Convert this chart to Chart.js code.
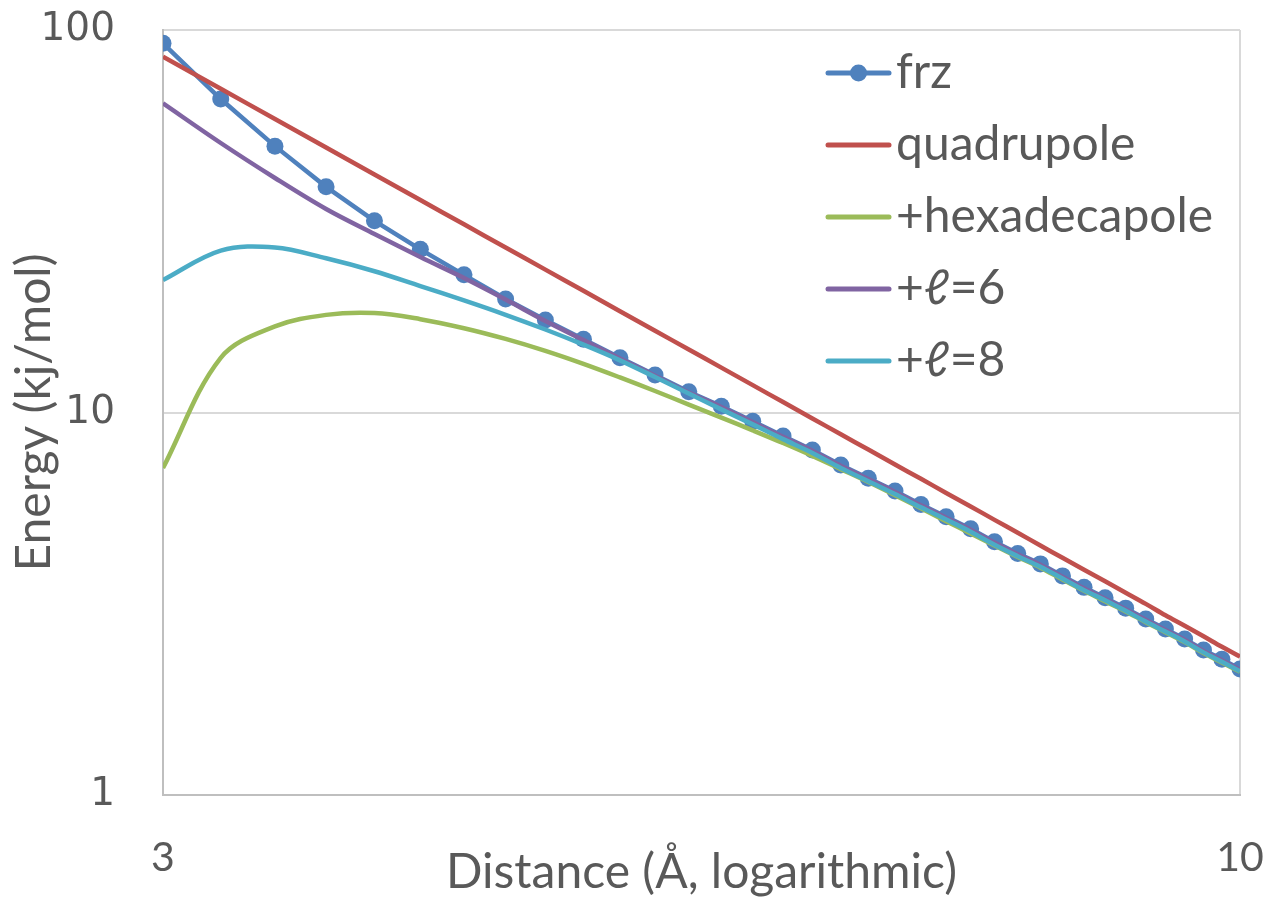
<!DOCTYPE html>
<html>
<head>
<meta charset="utf-8">
<title>Energy vs distance</title>
<script src="https://cdn.jsdelivr.net/npm/chart.js@4.4.1/dist/chart.umd.min.js"></script>
<style>
  html, body { margin: 0; padding: 0; background: #fff; }
  #wrap { width: 1263px; height: 901px; position: relative; }
</style>
</head>
<body>
<div id="wrap"><canvas id="chart"></canvas></div>
<script>
// distance in Å, 0.2 Å steps
const distance = [3.0, 3.2, 3.4, 3.6, 3.8, 4.0, 4.2, 4.4, 4.6, 4.8, 5.0, 5.2, 5.4, 5.6, 5.8, 6.0, 6.2, 6.4,
  6.6, 6.8, 7.0, 7.2, 7.4, 7.6, 7.8, 8.0, 8.2, 8.4, 8.6, 8.8, 9.0, 9.2, 9.4, 9.6, 9.8, 10.0];

// energies in kJ/mol
const frz = [92.3, 66.0, 49.7, 38.9, 31.7, 26.7, 22.9, 19.8, 17.45, 15.54, 13.91, 12.53, 11.33, 10.38, 9.48, 8.68,
  7.98, 7.29, 6.73, 6.23, 5.75, 5.34, 4.97, 4.59, 4.28, 4.02, 3.74, 3.49, 3.28, 3.08, 2.885, 2.716, 2.557, 2.394, 2.263, 2.135];
const quadrupole = [85.19, 70.19, 58.52, 49.30, 41.92, 35.94, 31.04, 27.00, 23.63, 20.80, 18.40, 16.36, 14.61, 13.10,
  11.79, 10.65, 9.65, 8.77, 8.00, 7.31, 6.71, 6.16, 5.68, 5.24, 4.85, 4.49, 4.17, 3.88, 3.62, 3.38, 3.16, 2.95, 2.77, 2.60, 2.44, 2.30];
const hexadecapole = [7.16, 13.9, 16.8, 18.0, 18.2, 17.54, 16.61, 15.57, 14.49, 13.40, 12.35, 11.38, 10.49, 9.70, 8.98,
  8.32, 7.70, 7.11, 6.58, 6.08, 5.62, 5.20, 4.83, 4.49, 4.19, 3.93, 3.66, 3.42, 3.21, 3.02, 2.83, 2.665, 2.51, 2.35, 2.22, 2.10];
const ell6 = [64.3, 50.65, 41.03, 34.04, 29.29, 25.50, 22.47, 19.74, 17.35, 15.47, 13.85, 12.48, 11.28, 10.34, 9.44, 8.64,
  7.94, 7.26, 6.70, 6.20, 5.72, 5.31, 4.94, 4.57, 4.26, 4.00, 3.72, 3.47, 3.26, 3.06, 2.87, 2.70, 2.545, 2.38, 2.25, 2.125];
const ell8 = [22.2, 26.5, 27.0, 25.3, 23.4, 21.4, 19.64, 18.01, 16.48, 15.04, 13.69, 12.38, 11.21, 10.19, 9.31, 8.52,
  7.84, 7.16, 6.61, 6.12, 5.65, 5.25, 4.88, 4.51, 4.21, 3.95, 3.68, 3.43, 3.23, 3.03, 2.84, 2.675, 2.52, 2.36, 2.23, 2.105];

const xTicks = [3, 10];
const yTicks = [1, 10, 100];

const textColor = '#595959';

function points(values) {
  return distance.map((d, i) => ({ x: d, y: values[i] }));
}

// legend drawn inside the plot, top right
const sideLegend = {
  id: 'sideLegend',
  afterDraw(chart) {
    const ctx = chart.ctx;
    ctx.save();
    ctx.font = '48px Lato';
    ctx.textBaseline = 'alphabetic';
    chart.data.datasets.forEach((ds, i) => {
      const y = 73 + i * 72;
      ctx.strokeStyle = ds.borderColor;
      ctx.lineWidth = 5;
      ctx.lineCap = 'round';
      ctx.beginPath();
      ctx.moveTo(828, y);
      ctx.lineTo(889, y);
      ctx.stroke();
      if (ds.pointRadius > 0) {
        ctx.fillStyle = ds.borderColor;
        ctx.beginPath();
        ctx.arc(858.5, y, 8.5, 0, Math.PI * 2);
        ctx.fill();
      }
      ctx.fillStyle = textColor;
      ctx.fillText(ds.label, 896, y + 15);
    });
    ctx.restore();
  }
};

const lineSet = (label, values, color, order) => ({
  label: label,
  data: points(values),
  borderColor: color,
  backgroundColor: color,
  borderWidth: 4.5,
  pointRadius: 0,
  pointHoverRadius: 0,
  tension: 0.35,
  order: order
});

new Chart(document.getElementById('chart'), {
  type: 'line',
  data: {
    datasets: [
      {
        label: 'frz',
        data: points(frz),
        borderColor: '#4F81BD',
        backgroundColor: '#4F81BD',
        borderWidth: 4.5,
        pointRadius: 8.5,
        pointBorderWidth: 0,
        pointBackgroundColor: '#4F81BD',
        tension: 0,
        order: 5
      },
      lineSet('quadrupole', quadrupole, '#C0504D', 4),
      lineSet('+hexadecapole', hexadecapole, '#9BBB59', 3),
      lineSet('+\u2113=6', ell6, '#8064A2', 2),
      lineSet('+\u2113=8', ell8, '#4BACC6', 1)
    ]
  },
  options: {
    responsive: true,
    maintainAspectRatio: false,
    animation: false,
    layout: { padding: { top: 30, right: 23, bottom: 0, left: 0 }, autoPadding: false },
    plugins: {
      legend: { display: false },
      tooltip: { enabled: false }
    },
    scales: {
      x: {
        type: 'logarithmic',
        min: 3,
        max: 10,
        afterBuildTicks: scale => { scale.ticks = xTicks.map(v => ({ value: v })); },
        afterFit: scale => {
          scale.height = 106;
          scale.paddingLeft = 0;
          scale.paddingRight = 0;
        },
        ticks: {
          color: textColor,
          font: { family: 'Lato', size: 41 },
          padding: 38,
          maxRotation: 0,
          callback: v => String(v)
        },
        grid: { color: '#d9d9d9', lineWidth: 2, drawTicks: false },
        border: { color: '#bfbfbf', width: 2 },
        title: {
          display: true,
          text: 'Distance (\u00C5, logarithmic)',
          color: textColor,
          font: { family: 'Lato', size: 48 },
          padding: 0
        }
      },
      y: {
        type: 'logarithmic',
        min: 1,
        max: 100,
        afterBuildTicks: scale => { scale.ticks = yTicks.map(v => ({ value: v })); },
        afterFit: scale => {
          scale.width = 163;
          scale.paddingTop = 0;
          scale.paddingBottom = 0;
        },
        ticks: {
          color: textColor,
          font: { family: 'DejaVu Sans', size: 39 },
          padding: 48,
          callback: v => String(v)
        },
        grid: { color: '#d9d9d9', lineWidth: 2, drawTicks: false },
        border: { color: '#bfbfbf', width: 2 },
        title: {
          display: true,
          text: 'Energy (kj/mol)',
          color: textColor,
          font: { family: 'Lato', size: 48 },
          padding: { top: 6, bottom: 0 }
        }
      }
    }
  },
  plugins: [sideLegend]
});
</script>
</body>
</html>
